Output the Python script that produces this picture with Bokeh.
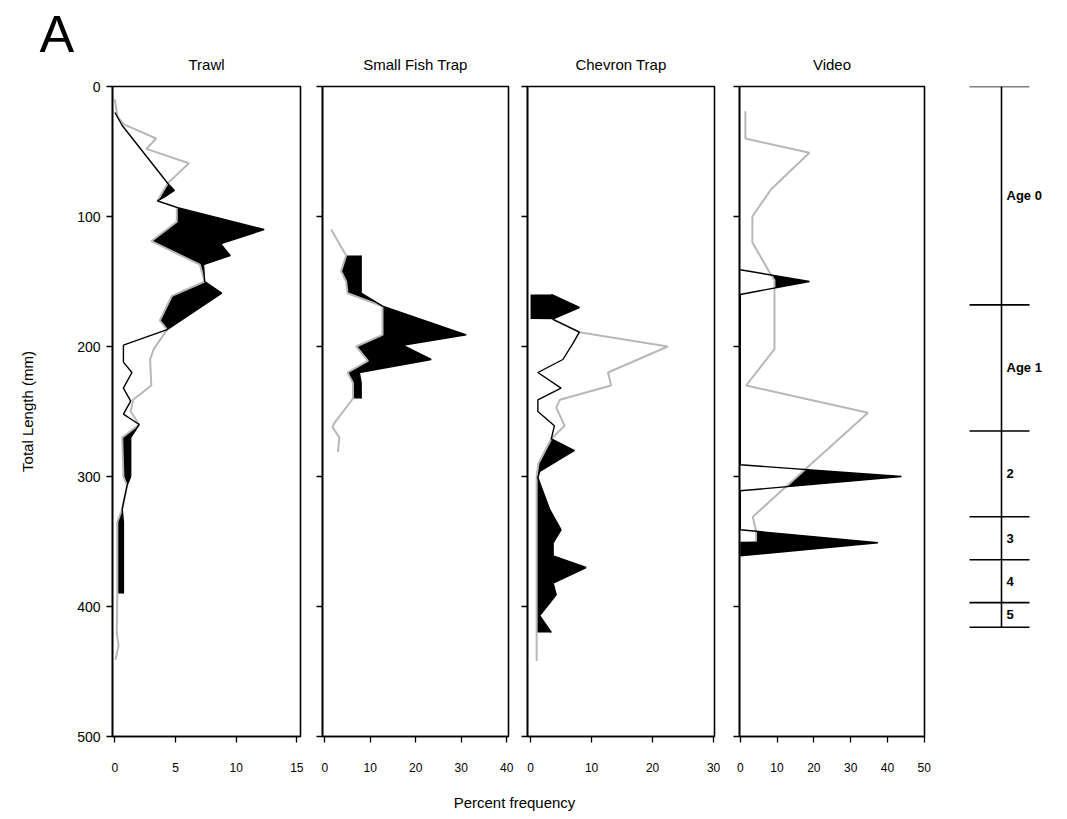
import numpy as np
from bokeh.plotting import figure
from bokeh.layouts import row, column
from bokeh.models import Range1d, FixedTicker, Label, Title
from bokeh.core.properties import value
from bokeh.embed import file_html
from bokeh.resources import INLINE

# ---------------- data (total length in mm, percent frequency) ----------------
trawl_gray_len = [10, 23, 29, 40, 48, 59, 74, 80, 88, 93, 104, 119, 137, 150, 161, 180, 187, 202, 210, 230, 241, 250, 260, 270, 300, 307, 325, 335, 390, 420, 430, 441]
trawl_gray_pct = [0.0, 0.2, 0.7, 3.4, 2.6, 6.1, 4.4, 4.0, 3.5, 5.1, 5.1, 3.0, 7.0, 7.4, 4.7, 3.7, 4.3, 3.2, 2.9, 3.0, 1.5, 1.3, 2.0, 0.6, 0.7, 1.0, 0.6, 0.2, 0.2, 0.15, 0.3, 0.05]
trawl_black_len = [20, 30, 75, 80, 85, 88, 93, 110, 121, 130, 137, 150, 159, 187, 199, 212, 220, 232, 242, 252, 260, 270, 300, 307, 325, 335, 390]
trawl_black_pct = [0.0, 0.6, 4.4, 4.9, 4.1, 3.5, 5.1, 12.3, 8.7, 9.5, 7.3, 7.4, 8.8, 4.3, 0.7, 0.7, 1.4, 0.7, 1.3, 0.7, 2.0, 1.3, 1.3, 1.0, 0.6, 0.7, 0.7]

sft_gray_len = [110, 130, 142, 150, 159, 169, 191, 200, 211, 220, 228, 240, 259, 262, 270, 281]
sft_gray_pct = [1.4, 4.7, 3.6, 4.7, 5.0, 12.7, 12.7, 6.9, 9.5, 5.0, 6.2, 6.2, 2.1, 1.7, 3.2, 2.9]
sft_black_len = [130, 159, 169, 191, 199, 210, 220, 228, 240]
sft_black_pct = [8.0, 8.0, 12.7, 31.1, 17.1, 23.4, 7.6, 8.0, 8.0]

chev_gray_len = [179, 189, 200, 220, 230, 241, 247, 261, 271, 290, 300, 442]
chev_gray_pct = [3.6, 8.0, 22.5, 12.7, 13.2, 4.8, 4.2, 5.6, 3.4, 1.3, 1.0, 1.0]
chev_black_len = [160, 170, 179, 189, 198, 210, 220, 232, 241, 250, 261, 271, 280, 296, 301, 325, 341, 351, 361, 370, 382, 391, 407, 420]
chev_black_pct = [3.4, 8.0, 3.6, 8.0, 6.9, 5.3, 1.2, 5.0, 1.2, 1.2, 3.9, 3.4, 7.2, 1.5, 1.2, 3.1, 5.0, 3.7, 3.7, 9.1, 3.7, 4.2, 1.5, 3.4]

video_gray_len = [19, 40, 51, 79, 100, 120, 143, 149, 202, 230, 251, 331, 342, 350]
video_gray_pct = [1.4, 1.4, 18.8, 8.4, 3.3, 3.3, 8.0, 9.3, 9.3, 1.6, 34.7, 3.4, 4.3, 4.3]
video_black_len = [141, 150, 160, 291, 300, 311, 341, 351, 361]
video_black_pct = [0.0, 18.8, 0.0, 0.0, 43.8, 0.0, 0.0, 37.4, 0.0]

panel_titles = ["Trawl", "Small Fish Trap", "Chevron Trap", "Video"]
panel_xticks = [[0, 5, 10, 15], [0, 10, 20, 30, 40], [0, 10, 20, 30], [0, 10, 20, 30, 40, 50]]
y_ticks = [0, 100, 200, 300, 400, 500]

age_bounds = [0, 168, 265, 331, 364, 397, 416]
age_labels = ["Age 0", "Age 1", "2", "3", "4", "5"]

FONT = "Liberation Sans"
GRAY = "#b8b8b8"
INK = "black"

# ---------------- layout parameters ----------------
FRAME_H = 650
TOP = 86
BOTTOM = 40
TITLE_STANDOFF = 28
panel_xr = [(-0.2, 15.3), (-0.5, 40.4), (-0.5, 30.15), (-0.2, 50.07)]
panel_fw = [188, 186, 187, 185]
panel_bl = [112, 11, 10, 13]
panel_br = [11, 9, 12, 12]


def add_fill(p, bl, bx, gl, gx):
    ys = np.union1d(np.arange(min(bl), max(bl) + 0.001, 0.25), bl)
    b = np.interp(ys, bl, bx)
    inside = (ys >= gl[0]) & (ys <= gl[-1])
    g = np.where(inside, np.interp(ys, gl, gx), 0.0)
    top = np.maximum(b, g)
    p.harea(y=ys, x1=g, x2=top, fill_color="black", fill_alpha=1.0)


def make_panel(i, gl, gx, bl, bx):
    p = figure(frame_width=panel_fw[i], frame_height=FRAME_H,
               x_range=Range1d(*panel_xr[i]), y_range=Range1d(500, 0),
               min_border_left=panel_bl[i], min_border_right=panel_br[i],
               min_border_top=TOP, min_border_bottom=BOTTOM,
               output_backend="svg", toolbar_location=None)
    if i == 0:
        # the panel letter is the outer title, the panel name is added closer to the frame
        p.title.text = "A"
        p.title.align = "left"
        p.title.offset = -73
        p.title.standoff = -47
        p.title.text_font = FONT
        p.title.text_font_size = "52px"
        p.title.text_font_style = "normal"
        p.title.text_color = INK
        p.add_layout(Title(text=panel_titles[i], align="center", standoff=TITLE_STANDOFF,
                           text_font=FONT, text_font_size="15px", text_font_style="normal",
                           text_color=INK), "above")
    else:
        p.title.text = panel_titles[i]
        p.title.align = "center"
        p.title.text_font = FONT
        p.title.text_font_size = "15px"
        p.title.text_font_style = "normal"
        p.title.text_color = INK
        p.title.standoff = TITLE_STANDOFF
    p.grid.visible = False
    p.outline_line_color = "black"
    p.outline_line_width = 1.6
    p.background_fill_color = "white"
    p.border_fill_color = "white"

    xa = p.xaxis[0]
    xa.ticker = FixedTicker(ticks=panel_xticks[i])
    xa.major_tick_out = 6
    xa.major_tick_in = 0
    xa.minor_tick_line_color = None
    xa.axis_line_width = 1.6
    xa.major_tick_line_width = 1.3
    xa.major_label_standoff = 20
    xa.major_label_text_font = FONT
    xa.major_label_text_font_size = "12px"
    xa.major_label_text_color = INK

    ya = p.yaxis[0]
    ya.ticker = FixedTicker(ticks=y_ticks)
    ya.major_tick_out = 6
    ya.major_tick_in = 0
    ya.minor_tick_line_color = None
    ya.axis_line_width = 1.6
    ya.major_tick_line_width = 1.3
    ya.major_label_text_font = FONT
    ya.major_label_text_font_size = "14px"
    ya.major_label_text_color = INK
    if i == 0:
        ya.axis_label = "Total Length (mm)"
        ya.axis_label_text_font = FONT
        ya.axis_label_text_font_size = "15px"
        ya.axis_label_text_font_style = "normal"
        ya.axis_label_text_color = INK
        ya.axis_label_standoff = 38
        ya.major_label_standoff = 6
    else:
        ya.major_label_overrides = {t: "" for t in y_ticks}
        ya.major_label_standoff = 0

    add_fill(p, bl, bx, gl, gx)
    p.line(gx, gl, line_color=GRAY, line_width=2.0)
    p.line(bx, bl, line_color="black", line_width=1.4)
    return p


p1 = make_panel(0, trawl_gray_len, trawl_gray_pct, trawl_black_len, trawl_black_pct)
p2 = make_panel(1, sft_gray_len, sft_gray_pct, sft_black_len, sft_black_pct)
p3 = make_panel(2, chev_gray_len, chev_gray_pct, chev_black_len, chev_black_pct)
p4 = make_panel(3, video_gray_len, video_gray_pct, video_black_len, video_black_pct)

# ---------------- age bracket ----------------
pa = figure(frame_width=108, frame_height=FRAME_H, x_range=Range1d(0, 108), y_range=Range1d(500, 0),
            min_border_left=0, min_border_right=0, min_border_top=TOP, min_border_bottom=BOTTOM,
            output_backend="svg", toolbar_location=None)
pa.xaxis.visible = False
pa.yaxis.visible = False
pa.grid.visible = False
pa.outline_line_color = None
pa.segment(x0=[65], y0=[age_bounds[0]], x1=[65], y1=[age_bounds[-1]], line_color="black", line_width=1.6)
pa.segment(x0=[33] * len(age_bounds), y0=age_bounds, x1=[93] * len(age_bounds), y1=age_bounds,
           line_color="black", line_width=1.6)
mids = [(a + b) / 2 for a, b in zip(age_bounds[:-1], age_bounds[1:])]
pa.text(x=[70] * len(mids), y=mids, text=age_labels, text_font=value(FONT), text_color=INK,
        text_font_size="13px", text_font_style="bold", text_baseline="middle", text_align="left")

# ---------------- bottom axis title ----------------
total_w = sum(panel_fw) + sum(panel_bl) + sum(panel_br) + 108
pb = figure(frame_width=total_w, frame_height=36, x_range=Range1d(0, total_w), y_range=Range1d(0, 36),
            min_border=0, output_backend="svg", toolbar_location=None)
pb.xaxis.visible = False
pb.yaxis.visible = False
pb.grid.visible = False
pb.outline_line_color = None
pb.add_layout(Label(x=514, y=10, text="Percent frequency", text_font=FONT, text_font_size="15px",
                    text_color=INK, text_align="center", text_baseline="middle"))

layout = column(row(p1, p2, p3, p4, pa, spacing=0), pb, spacing=0)
open("out.html", "w").write(file_html(layout, INLINE))
